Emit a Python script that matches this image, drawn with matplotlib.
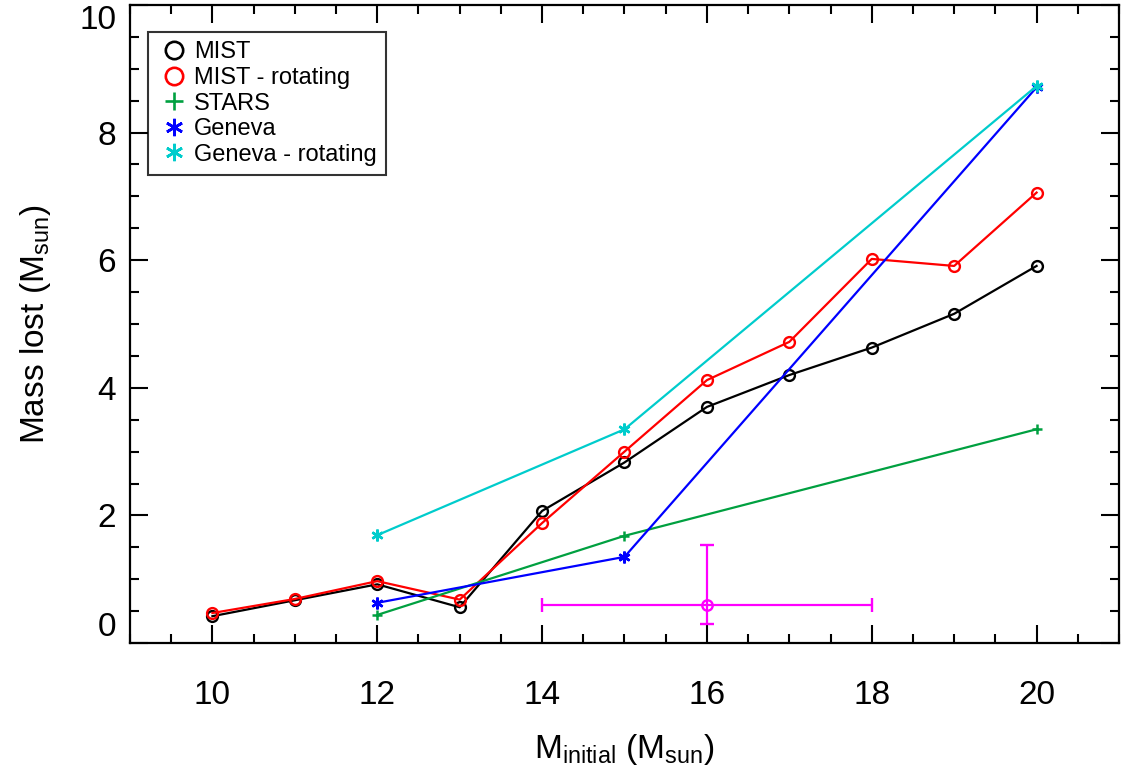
import matplotlib
matplotlib.use("Agg")
import matplotlib.pyplot as plt
from matplotlib.ticker import MultipleLocator

plt.rcParams['font.family'] = ['Liberation Sans', 'DejaVu Sans']
plt.rcParams['mathtext.default'] = 'regular'

# ---- data ----
mist_mass = [10, 11, 12, 13, 14, 15, 16, 17, 18, 19, 20]
mist_lost = [0.42, 0.67, 0.92, 0.56, 2.07, 2.83, 3.70, 4.20, 4.63, 5.16, 5.91]
mist_rot_lost = [0.47, 0.69, 0.97, 0.68, 1.88, 3.00, 4.12, 4.72, 6.02, 5.91, 7.06]

stars_mass = [12, 15, 20]
stars_lost = [0.44, 1.68, 3.35]

geneva_mass = [12, 15, 20]
geneva_lost = [0.63, 1.35, 8.71]
geneva_rot_lost = [1.69, 3.35, 8.73]

obs_mass = [16]
obs_lost = [0.60]
obs_xerr = [2.0]
obs_yerr_low = [0.30]
obs_yerr_high = [0.93]

labels = ['MIST', 'MIST - rotating', 'STARS', 'Geneva', 'Geneva - rotating']
colors = ['black', '#ff0000', '#00a040', '#0000ff', '#00cccc']
xticks = [10, 12, 14, 16, 18, 20]
yticks = [0, 2, 4, 6, 8, 10]

fig = plt.figure(figsize=(11.22, 7.78), dpi=100)
ax = fig.add_axes([130/1122, 1-643/778, (1119-130)/1122, (643-5)/778])

lw = 1.6
ast = (6, 2, 0)
ax.plot(mist_mass, mist_lost, color=colors[0], lw=lw, marker='o', ms=7.8,
        mfc='none', mew=1.7, label=labels[0])
ax.plot(mist_mass, mist_rot_lost, color=colors[1], lw=lw, marker='o', ms=7.8,
        mfc='none', mew=1.7, label=labels[1])
ax.plot(stars_mass, stars_lost, color=colors[2], lw=lw, marker='+', ms=7.5,
        mew=1.8, label=labels[2])
ax.plot(geneva_mass, geneva_lost, color=colors[3], lw=lw, marker=ast, ms=8.5,
        mew=1.8, label=labels[3])
ax.plot(geneva_mass, geneva_rot_lost, color=colors[4], lw=lw, marker=ast, ms=8.5,
        mew=1.8, label=labels[4])

ax.errorbar(obs_mass, obs_lost, xerr=[obs_xerr, obs_xerr],
            yerr=[obs_yerr_low, obs_yerr_high], fmt='o', color='#ff00ff',
            mfc='none', ms=7.5, mew=1.7, elinewidth=1.6, capsize=5, capthick=1.6)

ax.set_xlim(9, 21)
ax.set_ylim(0, 10)
ax.set_xticks(xticks)
ax.set_yticks(yticks)
ax.xaxis.set_minor_locator(MultipleLocator(0.5))
ax.yaxis.set_minor_locator(MultipleLocator(0.5))
ax.tick_params(which='both', direction='in', top=True, right=True, width=1.5)
ax.tick_params(which='major', length=13)
ax.tick_params(which='minor', length=6.5)
ax.tick_params(axis='x', which='major', labelsize=24, pad=27)
ax.tick_params(axis='y', which='major', labelsize=24, pad=10)
for s in ax.spines.values():
    s.set_linewidth(1.6)

ax.set_yticklabels([str(t) for t in yticks])
ylabs = ax.get_yticklabels()
ylabs[0].set_va('bottom')
ylabs[-1].set_va('top')

ax.set_xlabel('M$_{initial}$ (M$_{sun}$)', fontsize=24, labelpad=15)
ax.set_ylabel('Mass lost (M$_{sun}$)', fontsize=24, labelpad=19)

leg = ax.legend(loc='upper left', bbox_to_anchor=(148/1122, 1-32/778),
                bbox_transform=fig.transFigure, fontsize=17, frameon=True,
                fancybox=False, edgecolor='black', handlelength=1.4,
                handletextpad=0.15, borderpad=0.4, labelspacing=0.15,
                borderaxespad=0)
leg.get_frame().set_linewidth(1.5)
for h in leg.legend_handles:
    h.set_linestyle('none')
    h.set_markersize(12.5)
    h.set_markeredgewidth(1.9)

fig.savefig('out.png', dpi=100)
